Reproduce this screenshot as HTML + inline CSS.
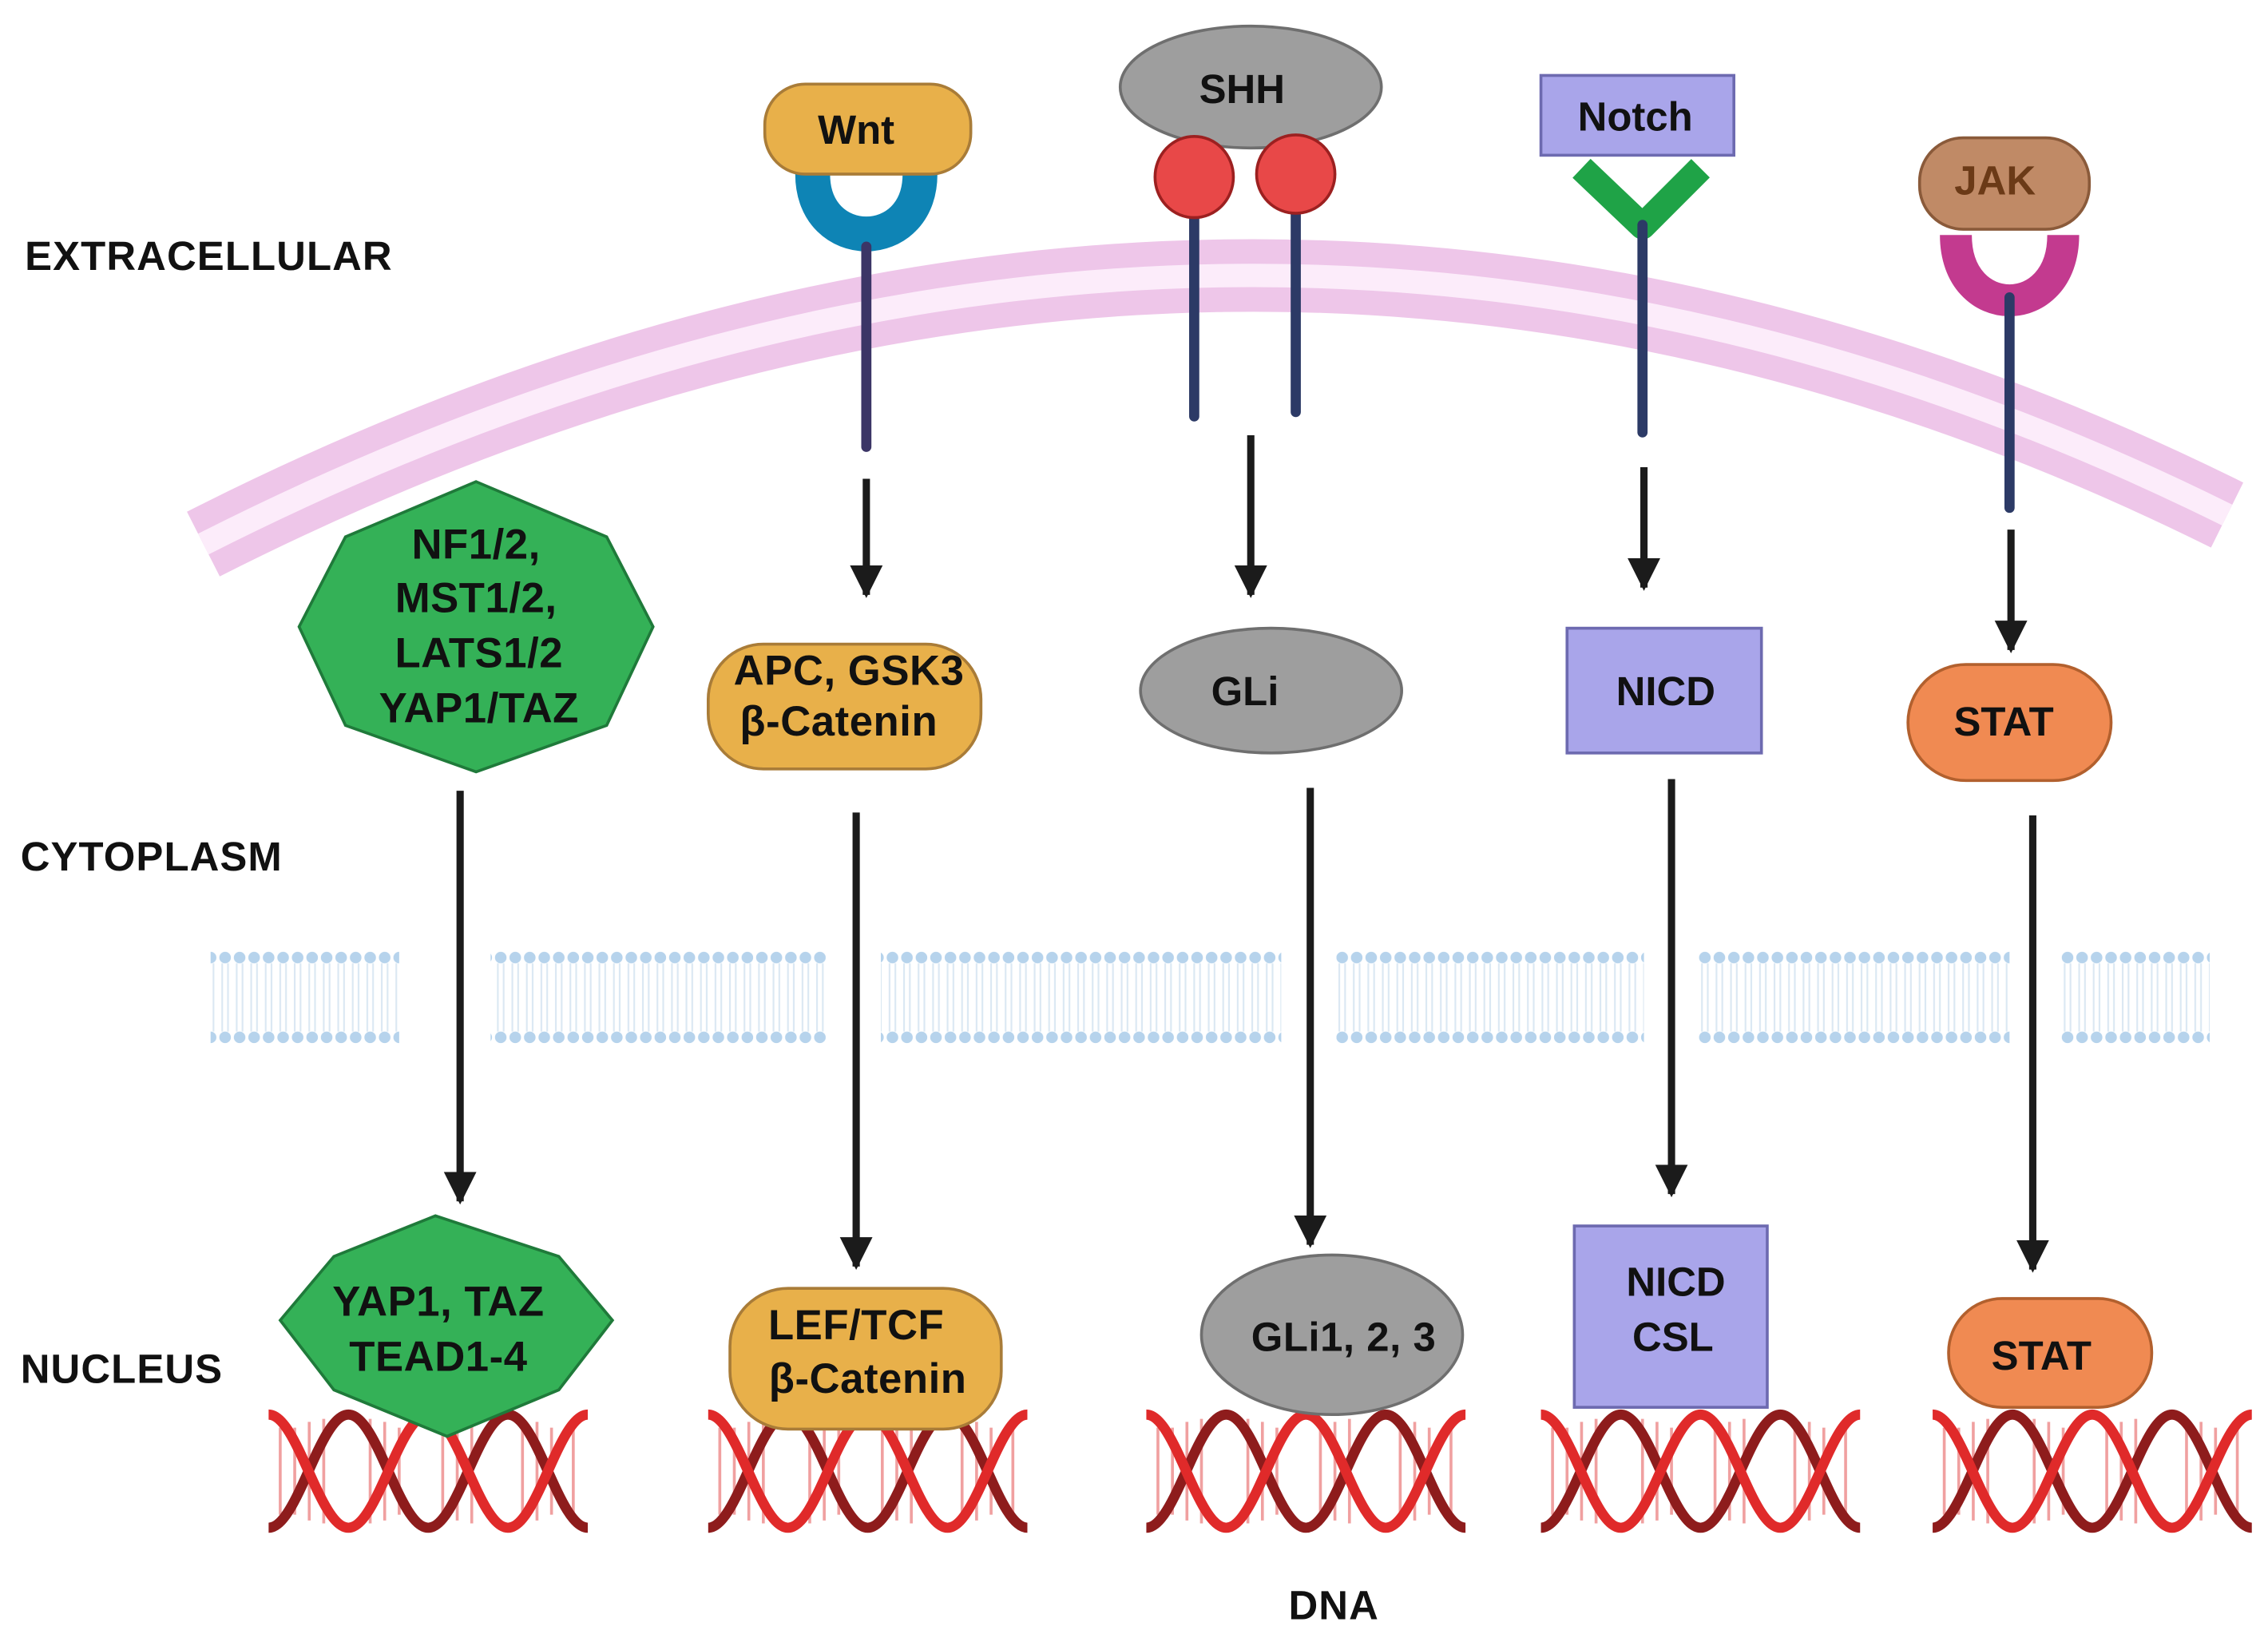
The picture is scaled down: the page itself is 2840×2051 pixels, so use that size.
<!DOCTYPE html>
<html><head><meta charset="utf-8"><style>html,body{margin:0;padding:0;background:#fff}svg{display:block}text{font-family:"Liberation Sans",sans-serif;font-weight:bold}</style></head>
<body>
<svg width="2840" height="2051" viewBox="0 0 1563 1129" xmlns="http://www.w3.org/2000/svg">
<defs>
<pattern id="lip" x="0" y="655" width="10" height="65" patternUnits="userSpaceOnUse">
<line x1="3" y1="9" x2="3" y2="56" stroke="#dbe8f3" stroke-width="1.2"/>
<line x1="7" y1="9" x2="7" y2="56" stroke="#dbe8f3" stroke-width="1.2"/>
<circle cx="5" cy="5" r="4" fill="#b6d3ec"/>
<circle cx="5" cy="60" r="4" fill="#b6d3ec"/>
</pattern>
<g id="dna">
<g stroke="#f0a0a0" stroke-width="2">
<line x1="8" y1="-30" x2="8" y2="30"/><line x1="18" y1="-30" x2="18" y2="30"/><line x1="28" y1="-34" x2="28" y2="34"/><line x1="38" y1="-36" x2="38" y2="36"/><line x1="70" y1="-36" x2="70" y2="36"/><line x1="80" y1="-34" x2="80" y2="34"/><line x1="90" y1="-30" x2="90" y2="30"/><line x1="120" y1="-30" x2="120" y2="30"/><line x1="130" y1="-34" x2="130" y2="34"/><line x1="140" y1="-36" x2="140" y2="36"/><line x1="175" y1="-36" x2="175" y2="36"/><line x1="185" y1="-34" x2="185" y2="34"/><line x1="195" y1="-30" x2="195" y2="30"/><line x1="210" y1="-30" x2="210" y2="30"/>
</g>
<path d="M0,39 C20,39 35,-39 55,-39 C75,-39 90,39 110,39 C130,39 145,-39 165,-39 C185,-39 200,39 220,39" fill="none" stroke="#8e1c1c" stroke-width="7"/>
<path d="M0,-39 C20,-39 35,39 55,39 C75,39 90,-39 110,-39 C130,-39 145,39 165,39 C185,39 200,-39 220,-39" fill="none" stroke="#e02a2a" stroke-width="7"/>
</g>
<marker id="ah" viewBox="0 0 10 10" refX="9" refY="5" markerWidth="4.5" markerHeight="5.5" markerUnits="strokeWidth" orient="auto"><path d="M0,0 L10,5 L0,10 z" fill="#1b1b1b"/></marker>
</defs>

<path d="M140,375 Q850,15 1535,355" fill="none" stroke="#eec6e9" stroke-width="50"/>
<path d="M140,375 Q850,15 1535,355" fill="none" stroke="#fcecfa" stroke-width="16"/>

<g fill="url(#lip)">
<rect x="145" y="655" width="130" height="65"/>
<rect x="338" y="655" width="232" height="65"/>
<rect x="607" y="655" width="276" height="65"/>
<rect x="921" y="655" width="212" height="65"/>
<rect x="1170" y="655" width="215" height="65"/>
<rect x="1420" y="655" width="103" height="65"/>
</g>

<g font-size="28" fill="#111" letter-spacing="0.6">
<text x="17" y="186">EXTRACELLULAR</text>
<text x="14" y="600">CYTOPLASM</text>
<text x="14" y="953">NUCLEUS</text>
<text x="888" y="1116">DNA</text>
</g>

<use href="#dna" x="185" y="1014"/>
<use href="#dna" x="488" y="1014"/>
<use href="#dna" x="790" y="1014"/>
<use href="#dna" x="1062" y="1014"/>
<use href="#dna" x="1332" y="1014"/>

<g stroke="#1b1b1b" stroke-width="5" marker-end="url(#ah)">
<line x1="317" y1="545" x2="317" y2="828"/>
<line x1="597" y1="330" x2="597" y2="410"/>
<line x1="590" y1="560" x2="590" y2="873"/>
<line x1="862" y1="300" x2="862" y2="410"/>
<line x1="903" y1="543" x2="903" y2="858"/>
<line x1="1133" y1="322" x2="1133" y2="405"/>
<line x1="1152" y1="537" x2="1152" y2="823"/>
<line x1="1386" y1="365" x2="1386" y2="448"/>
<line x1="1401" y1="562" x2="1401" y2="875"/>
</g>

<polygon points="328,332 418,370 450,432 418,500 328,532 238,500 206,432 238,370" fill="#34b157" stroke="#1f7a3a" stroke-width="2"/>
<g font-size="29" fill="#111" text-anchor="middle" letter-spacing="0.3">
<text x="328" y="385">NF1/2,</text><text x="328" y="422">MST1/2,</text><text x="330" y="460">LATS1/2</text><text x="330" y="498">YAP1/TAZ</text>
</g>
<polygon points="300,838 385,866 422,910 385,958 308,990 230,958 193,910 230,866" fill="#34b157" stroke="#1f7a3a" stroke-width="2"/>
<g font-size="29" fill="#111" text-anchor="middle" letter-spacing="0.3"><text x="302" y="907">YAP1, TAZ</text><text x="302" y="945">TEAD1-4</text></g>

<path d="M560,120 C560,175 634,175 634,120" fill="none" stroke="#0e84b5" stroke-width="24"/>
<line x1="597" y1="170" x2="597" y2="308" stroke="#3b3566" stroke-width="7" stroke-linecap="round"/>
<rect x="527" y="58" width="142" height="62" rx="28" fill="#e8b04a" stroke="#a97c38" stroke-width="2"/>
<text x="590" y="99" font-size="28" fill="#111" text-anchor="middle">Wnt</text>
<rect x="488" y="444" width="188" height="86" rx="38" fill="#e8b04a" stroke="#a97c38" stroke-width="2"/>
<g font-size="29" fill="#111" text-anchor="middle" letter-spacing="0.3"><text x="585" y="472">APC, GSK3</text><text x="578" y="507">β-Catenin</text></g>
<rect x="503" y="888" width="187" height="97" rx="40" fill="#e8b04a" stroke="#a97c38" stroke-width="2"/>
<g font-size="29" fill="#111" text-anchor="middle" letter-spacing="0.3"><text x="590" y="923">LEF/TCF</text><text x="598" y="960">β-Catenin</text></g>

<line x1="823" y1="140" x2="823" y2="287" stroke="#2c3a66" stroke-width="7" stroke-linecap="round"/>
<line x1="893" y1="140" x2="893" y2="284" stroke="#2c3a66" stroke-width="7" stroke-linecap="round"/>
<ellipse cx="862" cy="60" rx="90" ry="42" fill="#9e9e9e" stroke="#6f6f6f" stroke-width="2"/>
<ellipse cx="823" cy="122" rx="27" ry="28" fill="#e84848" stroke="#9c2020" stroke-width="2"/>
<ellipse cx="893" cy="120" rx="27" ry="27" fill="#e84848" stroke="#9c2020" stroke-width="2"/>
<text x="856" y="71" font-size="28" fill="#111" text-anchor="middle">SHH</text>
<ellipse cx="876" cy="476" rx="90" ry="43" fill="#9e9e9e" stroke="#6f6f6f" stroke-width="2"/>
<text x="858" y="486" font-size="28" fill="#111" text-anchor="middle">GLi</text>
<ellipse cx="918" cy="920" rx="90" ry="55" fill="#9e9e9e" stroke="#6f6f6f" stroke-width="2"/>
<text x="926" y="931" font-size="28" fill="#111" text-anchor="middle" letter-spacing="0.3">GLi1, 2, 3</text>

<polyline points="1090,116 1132,156 1172,116" fill="none" stroke="#1fa347" stroke-width="18" stroke-linejoin="round"/>
<line x1="1132" y1="155" x2="1132" y2="298" stroke="#2c3a66" stroke-width="7" stroke-linecap="round"/>
<rect x="1062" y="52" width="133" height="55" fill="#a9a5ea" stroke="#6d6ab0" stroke-width="2"/>
<text x="1127" y="90" font-size="28" fill="#111" text-anchor="middle">Notch</text>
<rect x="1080" y="433" width="134" height="86" fill="#a9a5ea" stroke="#6d6ab0" stroke-width="2"/>
<text x="1148" y="486" font-size="28" fill="#111" text-anchor="middle">NICD</text>
<rect x="1085" y="845" width="133" height="125" fill="#a9a5ea" stroke="#6d6ab0" stroke-width="2"/>
<g font-size="28" fill="#111" text-anchor="middle"><text x="1155" y="893">NICD</text><text x="1153" y="931">CSL</text></g>

<path d="M1348,162 C1348,222 1422,222 1422,162" fill="none" stroke="#c33a8f" stroke-width="22"/>
<line x1="1385" y1="205" x2="1385" y2="350" stroke="#2c3a66" stroke-width="7" stroke-linecap="round"/>
<rect x="1323" y="95" width="117" height="63" rx="30" fill="#c08a66" stroke="#8a5a3a" stroke-width="2"/>
<text x="1375" y="134" font-size="28" fill="#6b3a17" text-anchor="middle">JAK</text>
<rect x="1315" y="458" width="140" height="80" rx="40" fill="#f08a52" stroke="#b2602e" stroke-width="2"/>
<text x="1381" y="507" font-size="28" fill="#111" text-anchor="middle">STAT</text>
<rect x="1343" y="895" width="140" height="75" rx="37" fill="#f08a52" stroke="#b2602e" stroke-width="2"/>
<text x="1407" y="944" font-size="28" fill="#111" text-anchor="middle">STAT</text>
</svg>
</body></html>
